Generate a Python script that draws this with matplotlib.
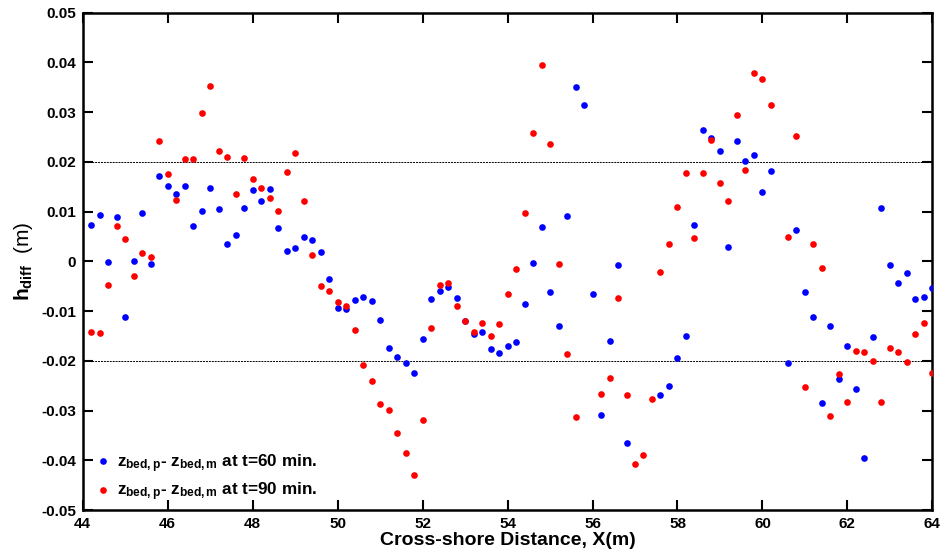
import numpy as np
import matplotlib
matplotlib.use("Agg")
import matplotlib.pyplot as plt

plt.rcParams['font.family'] = ['Liberation Sans', 'DejaVu Sans']
plt.rcParams['font.weight'] = 'bold'
plt.rcParams['mathtext.fontset'] = 'custom'
plt.rcParams['mathtext.rm'] = 'Liberation Sans:bold'
plt.rcParams['mathtext.it'] = 'Liberation Sans:bold'
plt.rcParams['mathtext.bf'] = 'Liberation Sans:bold'

nan = np.nan

# Cross-shore stations (m)
x_pos = np.round(np.linspace(44.2, 64.0, 100), 1)

# Bed-level difference, predicted minus measured, t = 60 min
h_diff_60 = [
    0.0074, 0.0094, -0.0001, 0.0089, -0.0112, 0.0001, 0.0097, -0.0005, 0.0172, 0.0151,
    0.0135, 0.0152, 0.0072, 0.0101, 0.0147, 0.0105, 0.0036, 0.0054, 0.0108, 0.0143,
    0.0121, 0.0146, 0.0067, 0.0021, 0.0026, 0.0050, 0.0043, 0.0019, -0.0036, -0.0094,
    -0.0095, -0.0078, -0.0072, -0.0080, -0.0117, -0.0174, -0.0192, -0.0205, -0.0224, -0.0157,
    -0.0076, -0.0059, -0.0051, -0.0074, -0.0120, -0.0146, -0.0142, -0.0177, -0.0184, -0.0170,
    -0.0163, -0.0085, -0.0003, 0.0069, -0.0062, -0.0130, 0.0091, 0.0351, 0.0315, -0.0065,
    -0.0309, -0.0160, -0.0007, -0.0365, nan, nan, nan, -0.0268, -0.0250, -0.0195,
    -0.0150, 0.0073, 0.0264, 0.0249, 0.0223, 0.0028, 0.0243, 0.0202, 0.0214, 0.0139,
    0.0181, nan, -0.0205, 0.0063, -0.0062, -0.0112, -0.0284, -0.0130, -0.0237, -0.0170,
    -0.0256, -0.0396, -0.0152, 0.0107, -0.0007, -0.0044, -0.0023, -0.0076, -0.0072, -0.0053,
]

# Bed-level difference, predicted minus measured, t = 90 min
h_diff_90 = [
    -0.0142, -0.0144, -0.0047, 0.0071, 0.0046, -0.0030, 0.0017, 0.0008, 0.0243, 0.0175,
    0.0124, 0.0205, 0.0205, 0.0298, 0.0353, 0.0223, 0.0209, 0.0135, 0.0208, 0.0166,
    0.0147, 0.0127, 0.0101, 0.0180, 0.0218, 0.0122, 0.0013, -0.0050, -0.0059, -0.0082,
    -0.0089, -0.0138, -0.0208, -0.0241, -0.0286, -0.0298, -0.0345, -0.0386, -0.0429, -0.0319,
    -0.0134, -0.0048, -0.0044, -0.0089, -0.0120, -0.0142, -0.0123, -0.0151, -0.0125, -0.0066,
    -0.0015, 0.0098, 0.0258, 0.0395, 0.0237, -0.0006, -0.0186, -0.0313, nan, nan,
    -0.0267, -0.0234, -0.0073, -0.0269, -0.0408, -0.0389, -0.0277, -0.0021, 0.0035, 0.0110,
    0.0178, 0.0047, 0.0178, 0.0245, 0.0157, 0.0122, 0.0294, 0.0183, 0.0378, 0.0366,
    0.0315, nan, 0.0050, 0.0253, -0.0253, 0.0034, -0.0013, -0.0310, -0.0227, -0.0282,
    -0.0181, -0.0182, -0.0201, -0.0282, -0.0174, -0.0183, -0.0202, -0.0145, -0.0123, -0.0224,
]

x_ticks = [44, 46, 48, 50, 52, 54, 56, 58, 60, 62, 64]
y_ticks = [-0.05, -0.04, -0.03, -0.02, -0.01, 0, 0.01, 0.02, 0.03, 0.04, 0.05]
y_ticklabels = ['-0.05', '-0.04', '-0.03', '-0.02', '-0.01', '0',
                '0.01', '0.02', '0.03', '0.04', '0.05']
band = 0.02

fig = plt.figure(figsize=(9.42, 5.55), dpi=100)
ax = fig.add_axes([0.0878, 0.081, 0.902, 0.896])

ax.axhline(band, color='black', linestyle=(0, (2, 1)), linewidth=0.7, zorder=1)
ax.axhline(-band, color='black', linestyle=(0, (2, 1)), linewidth=0.7, zorder=1)

ax.plot(x_pos, h_diff_60, linestyle='none', marker='o', markersize=4.8,
        color='#0000ff', markeredgewidth=0,
        label=r'$z_{bed,p}$- $z_{bed,m}$ at t=60 min.', zorder=3)
ax.plot(x_pos, h_diff_90, linestyle='none', marker='o', markersize=4.8,
        color='#ff0000', markeredgewidth=0,
        label=r'$z_{bed,p}$- $z_{bed,m}$ at t=90 min.', zorder=4)

ax.set_xlim(44, 64)
ax.set_ylim(-0.05, 0.05)
ax.set_xticks(x_ticks)
ax.set_yticks(y_ticks)
ax.set_yticklabels(y_ticklabels)

ax.tick_params(direction='in', length=7, width=1.5, top=True, right=True,
               labelsize=11, pad=5)
for lab in ax.get_xticklabels() + ax.get_yticklabels():
    lab.set_fontweight('bold')
for sp in ax.spines.values():
    sp.set_linewidth(1.8)

ax.set_xlabel('Cross-shore Distance, X(m)', fontsize=14, fontweight='bold', labelpad=1)
ax.set_ylabel(r'$h_{diff}$  (m)', fontsize=15, labelpad=4)

leg = ax.legend(loc='lower left', bbox_to_anchor=(0.004, 0.0), frameon=False,
                fontsize=12.3, handletextpad=0.2, handlelength=1.2,
                labelspacing=0.35, borderaxespad=0.0)
for t in leg.get_texts():
    t.set_fontweight('bold')

fig.savefig('out.png', dpi=100)
